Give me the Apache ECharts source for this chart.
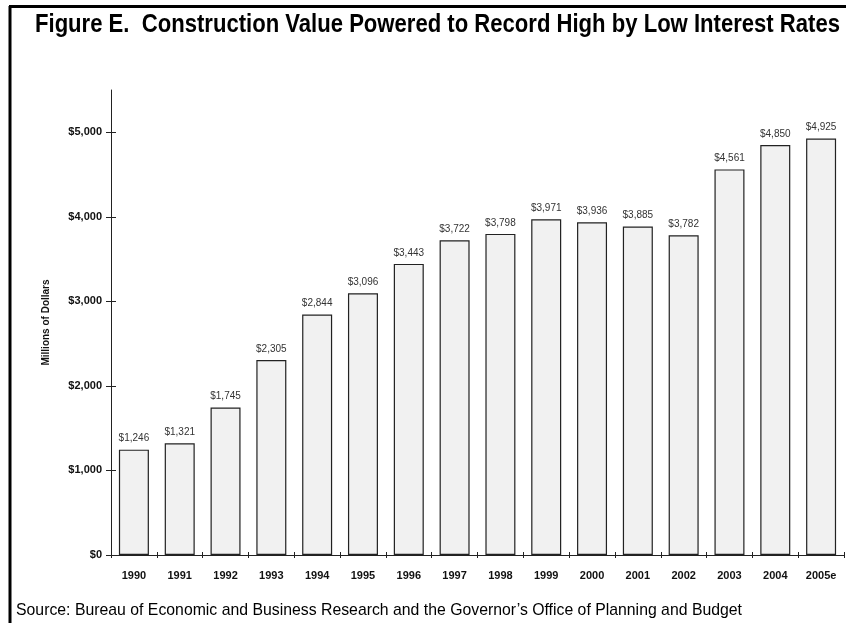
<!DOCTYPE html>
<html><head><meta charset="utf-8">
<script src="https://cdn.jsdelivr.net/npm/echarts@6/dist/echarts.min.js"></script>
<style>html,body{margin:0;padding:0;background:#fff}#c{width:846px;height:623px}</style>
</head><body><div id="c"></div>
<script>
var categories = ['1990','1991','1992','1993','1994','1995','1996','1997','1998','1999','2000','2001','2002','2003','2004','2005e'];
var values = [1246,1321,1745,2305,2844,3096,3443,3722,3798,3971,3936,3885,3782,4561,4850,4925];
var yTicks = [0,1000,2000,3000,4000,5000];
var titleText = 'Figure E.  Construction Value Powered to Record High by Low Interest Rates';
var sourceText = 'Source: Bureau of Economic and Business Research and the Governor\u2019s Office of Planning and Budget';

function money(v){ return '$' + String(v).replace(/\B(?=(\d{3})+(?!\d))/g, ','); }

var chart = echarts.init(document.getElementById('c'), null, {renderer:'canvas'});
var yCommon = {type:'value', min:0, max:5500, interval:1000};

// measure text to fit widths
var cv = document.createElement('canvas').getContext('2d');
cv.font = 'bold 25px "Liberation Sans", Arial';
var titleScale = 805 / cv.measureText(titleText).width;
cv.font = '17px "Liberation Sans", Arial';
var srcScale = 726 / cv.measureText(sourceText).width;

chart.setOption({
  animation:false,
  grid:{left:111, right:2, top:90, bottom:68},
  xAxis:[
    {type:'category', data:categories, position:'bottom',
     axisLine:{show:true, lineStyle:{color:'#222', width:1}},
     axisTick:{show:true, length:3, lineStyle:{color:'#222'}},
     axisLabel:{color:'#111', fontFamily:'Liberation Sans, Arial', fontWeight:'bold', fontSize:11, margin:15}},
    {type:'category', data:categories, position:'bottom',
     axisLine:{show:false}, axisTick:{show:true, inside:true, length:3, lineStyle:{color:'#222'}},
     axisLabel:{show:false}}
  ],
  yAxis:[
    Object.assign({}, yCommon, {
      name:'Millions of Dollars', nameLocation:'middle', nameGap:60, nameRotate:90,
      nameTextStyle:{color:'#111', fontFamily:'Liberation Sans, Arial', fontWeight:'bold', fontSize:10},
      axisLine:{show:true, lineStyle:{color:'#222', width:1}},
      axisTick:{show:true, length:5, customValues:yTicks, lineStyle:{color:'#222'}},
      axisLabel:{customValues:yTicks, formatter:money, color:'#111', fontFamily:'Liberation Sans, Arial', fontWeight:'bold', fontSize:11, margin:9},
      splitLine:{show:false}}),
    Object.assign({}, yCommon, {
      position:'left', offset:0,
      axisLine:{show:false},
      axisTick:{show:true, inside:true, length:5, customValues:yTicks, lineStyle:{color:'#222'}},
      axisLabel:{show:false}, splitLine:{show:false}})
  ],
  series:[{
    type:'bar', data:values, xAxisIndex:0, yAxisIndex:0, barWidth:30,
    itemStyle:{color:'#f1f1f1', borderColor:'#222', borderWidth:1.2},
    label:{show:true, position:'top', distance:6, formatter:function(p){return money(p.value);},
      color:'#333', fontFamily:'Liberation Sans, Arial', fontSize:10}
  }],
  graphic:[
    {type:'line', shape:{x1:10, y1:6, x2:10, y2:623}, style:{stroke:'#000', lineWidth:3}},
    {type:'line', shape:{x1:9, y1:6.5, x2:846, y2:6.5}, style:{stroke:'#000', lineWidth:3}},
    {type:'text', x:35, y:25, scaleX:titleScale, style:{text:titleText, fill:'#000', font:'bold 25px "Liberation Sans", Arial', verticalAlign:'middle', align:'left'}},
    {type:'text', x:16, y:610, scaleX:srcScale, style:{text:sourceText, fill:'#000', font:'17px "Liberation Sans", Arial', verticalAlign:'middle', align:'left'}}
  ]
});
</script></body></html>
